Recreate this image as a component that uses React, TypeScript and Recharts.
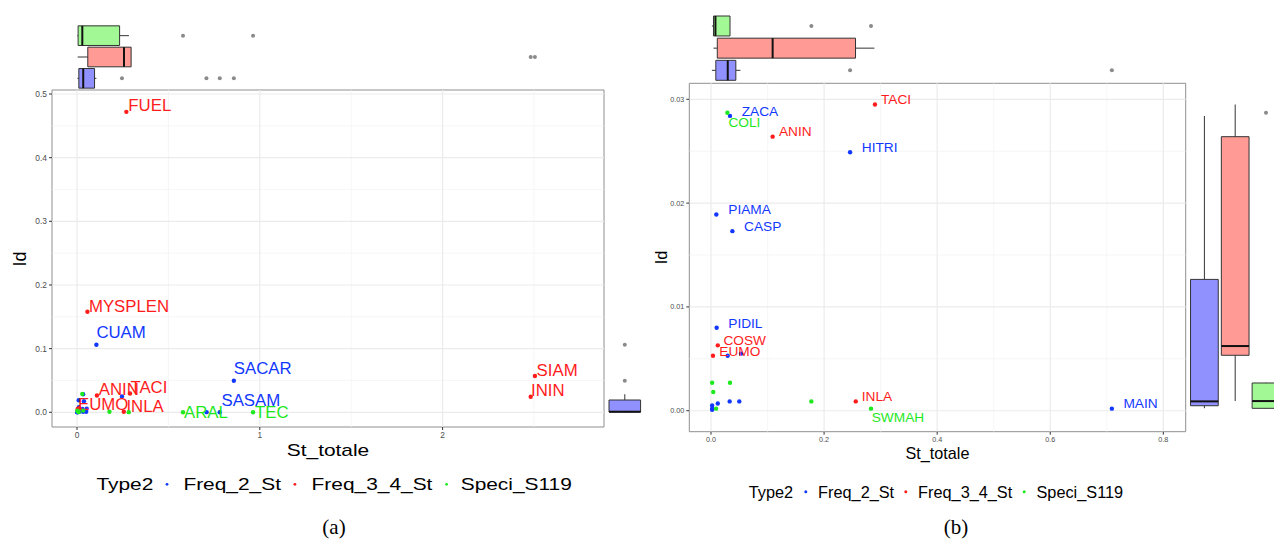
import React from 'react';
import { ScatterChart, Scatter, XAxis, YAxis, ReferenceLine, ReferenceArea } from 'recharts';

// ---------- DATA ----------
const typeNames = ['Freq_2_St', 'Freq_3_4_St', 'Speci_S119'];

// Freq_2_St (blue)
const freq2Names = ['ZACA', 'HITRI', 'PIAMA', 'CASP', 'PIDIL', '', '', '', '', '', '', '', '', 'MAIN', 'CUAM', 'SACAR', 'SASAM'];
const freq2St = [0.0336, 0.246, 0.0094, 0.0378, 0.010, 0.0295, 0.053, 0.033, 0.050, 0.002, 0.002, 0.002, 0.012, 0.709, 0.106, 0.858, 0.781];
const freq2Id = [0.0284, 0.0249, 0.0189, 0.0173, 0.0080, 0.0053, 0.0055, 0.0009, 0.0009, 0.0005, 0.0002, 0.0001, 0.0007, 0.0002, 0.106, 0.0496, 0.0];

// Freq_3_4_St (red)
const freq34Names = ['EUMO', 'COSW', 'ANIN', 'INLA', 'TACI', 'MYSPLEN', 'FUEL', 'ININ', 'SIAM'];
const freq34St = [0.0035, 0.012, 0.109, 0.256, 0.290, 0.057, 0.270, 2.482, 2.505];
const freq34Id = [0.0053, 0.0063, 0.0264, 0.0009, 0.0295, 0.158, 0.472, 0.0245, 0.057];

// Speci_S119 (green)
const speciNames = ['COLI', '', '', '', '', 'SWMAH', '', 'ARAL', 'TEC'];
const speciSt = [0.029, 0.002, 0.0336, 0.004, 0.1775, 0.283, 0.009, 0.58, 0.963];
const speciId = [0.0287, 0.0027, 0.0027, 0.0018, 0.0009, 0.0002, 0.0002, 0.0, 0.0];

// species left out of panel (b)
const excludedFromB = ['CUAM', 'SACAR', 'SASAM', 'MYSPLEN', 'FUEL', 'ININ', 'SIAM', 'ARAL', 'TEC'];

const labelledA = ['FUEL', 'MYSPLEN', 'CUAM', 'SACAR', 'SASAM', 'ARAL', 'TEC', 'ANIN', 'TACI', 'EUMO', 'INLA', 'SIAM', 'ININ'];
const labelledB = ['ZACA', 'COLI', 'ANIN', 'TACI', 'HITRI', 'PIAMA', 'CASP', 'PIDIL', 'COSW', 'EUMO', 'INLA', 'SWMAH', 'MAIN'];

// box stats [min, q1, median, q3, max] per type (blue, red, green)
const topBoxA = [[0.002, 0.010, 0.034, 0.096, 0.106], [0.0035, 0.059, 0.257, 0.296, 0.296], [0.002, 0.006, 0.029, 0.233, 0.284]];
const topOutA = [[0.246, 0.708, 0.781, 0.858], [2.482, 2.505], [0.58, 0.963]];
const rightBoxA = [[0.0, 0.0003, 0.0009, 0.0193, 0.0284]];
const rightOutA = [[0.0496, 0.106]];

const topBoxB = [[0.0016, 0.0085, 0.0296, 0.0439, 0.052], [0.0044, 0.0111, 0.109, 0.2556, 0.289], [0.0016, 0.0044, 0.0078, 0.0336, 0.0336]];
const topOutB = [[0.246, 0.709], [], [0.1775, 0.283]];
const rightBoxB = [[0.00024, 0.00048, 0.0009, 0.01265, 0.02839], [0.00093, 0.00534, 0.00623, 0.0264, 0.0295], [0.0002, 0.00023, 0.00093, 0.00267, 0.0027]];
const rightOutB = [[], [], [0.0287]];

// axis ticks
const xTicksA = [0, 1, 2];
const xMinorA = [0.5, 1.5, 2.5];
const yTicksA = [0, 0.1, 0.2, 0.3, 0.4, 0.5];
const yMinorA = [0.05, 0.15, 0.25, 0.35, 0.45];
const xTicksB = [0, 0.2, 0.4, 0.6, 0.8];
const xMinorB = [0.1, 0.3, 0.5, 0.7];
const yTicksB = [0, 0.01, 0.02, 0.03];
const yMinorB = [0.005, 0.015, 0.025];

// ---------- STYLE / LAYOUT ----------
const FONT = '"Liberation Sans", Arial, Helvetica, sans-serif';
const COLORS = ['#1238ff', '#ff1c1c', '#1ee81e'];
const BOX_FILL = ['#9090ff', '#ff9a94', '#a2f894'];

const xDomA: [number, number] = [-0.1368, 2.8829];
const yDomA: [number, number] = [-0.0231, 0.5063];
const xDomB: [number, number] = [-0.0384, 0.8396];
const yDomB: [number, number] = [-0.00202, 0.03154];

const offsetsA: Record<string, [number, number]> = {
  FUEL: [2, -6], MYSPLEN: [1.5, -5], CUAM: [0, -12.5], SACAR: [0, -12.4], SASAM: [1.7, -12],
  ARAL: [1, 0.5], TEC: [2, 0.5], ANIN: [1.8, -5.8], TACI: [0.4, -5.7], EUMO: [0.4, -4.5],
  INLA: [2.6, -5.5], SIAM: [1.7, -5.5], ININ: [0.3, -5.7],
};
const offsetsB: Record<string, [number, number]> = {
  ZACA: [11.7, -4], COLI: [1, 9.5], ANIN: [6.3, -5], TACI: [6, -5], HITRI: [11.7, -4.4],
  PIAMA: [12, -5], CASP: [11.7, -5], PIDIL: [11.6, -4.2], COSW: [5.6, -5], EUMO: [6.3, -4.5],
  INLA: [6, -5], SWMAH: [0.7, 9.2], MAIN: [11.6, -5],
};

function toPoints(names: string[], st: number[], id: number[]) {
  return names.map((n, i) => ({ name: n, x: st[i], y: id[i] }));
}

const seriesA = [
  toPoints(freq2Names, freq2St, freq2Id),
  toPoints(freq34Names, freq34St, freq34Id),
  toPoints(speciNames, speciSt, speciId),
];
const seriesB = seriesA.map((s) => s.filter((p) => !excludedFromB.includes(p.name)));

function makeShape(color: string, labels: string[], offsets: Record<string, [number, number]>, fontSize: number) {
  return (props: any) => {
    const { cx, cy, payload } = props;
    const name = payload?.name;
    const off = offsets[name];
    const show = name && labels.includes(name) && off;
    return (
      <g>
        <circle cx={cx} cy={cy} r={2.2} fill={color} />
        {show ? (
          <text x={cx + off[0]} y={cy + off[1]} fill={color} fontSize={fontSize} fontFamily={FONT} dominantBaseline="central" textAnchor="start">
            {name}
          </text>
        ) : null}
      </g>
    );
  };
}

type MainProps = {
  left: number; top: number; width: number; height: number;
  margin: { top: number; right: number; bottom: number; left: number };
  yAxisWidth: number; xAxisHeight: number;
  xDomain: [number, number]; yDomain: [number, number];
  xTicks: number[]; yTicks: number[]; xMinor: number[]; yMinor: number[];
  xFmt: (v: number) => string; yFmt: (v: number) => string;
  tickFont: number; series: any[][]; labels: string[]; offsets: Record<string, [number, number]>; labelFont: number;
};

function MainPanel(p: MainProps) {
  return (
    <div style={{ position: 'absolute', left: p.left, top: p.top, width: p.width, height: p.height }}>
      <ScatterChart width={p.width} height={p.height} margin={p.margin}>
        <XAxis type="number" dataKey="x" domain={p.xDomain} allowDataOverflow ticks={p.xTicks} interval={0}
          tickFormatter={p.xFmt} height={p.xAxisHeight} axisLine={false} tickLine={{ stroke: '#333' }}
          tickSize={3} tickMargin={2} tick={{ fontSize: p.tickFont, fill: '#4d4d4d', fontFamily: FONT }} />
        <YAxis type="number" dataKey="y" domain={p.yDomain} allowDataOverflow ticks={p.yTicks} interval={0}
          tickFormatter={p.yFmt} width={p.yAxisWidth} axisLine={false} tickLine={{ stroke: '#333' }}
          tickSize={3} tickMargin={2} tick={{ fontSize: p.tickFont, fill: '#4d4d4d', fontFamily: FONT }} />
        {p.yMinor.map((v) => <ReferenceLine key={'ym' + v} y={v} stroke="#f2f2f2" strokeWidth={0.7} />)}
        {p.xMinor.map((v) => <ReferenceLine key={'xm' + v} x={v} stroke="#f2f2f2" strokeWidth={0.7} />)}
        {p.yTicks.map((v) => <ReferenceLine key={'yM' + v} y={v} stroke="#ebebeb" strokeWidth={1.2} />)}
        {p.xTicks.map((v) => <ReferenceLine key={'xM' + v} x={v} stroke="#ebebeb" strokeWidth={1.2} />)}
        <ReferenceArea x1={p.xDomain[0]} x2={p.xDomain[1]} y1={p.yDomain[0]} y2={p.yDomain[1]}
          fill="none" fillOpacity={0} stroke="#8f8f8f" strokeWidth={1} />
        {p.series.map((s, i) => (
          <Scatter key={typeNames[i]} name={typeNames[i]} data={s} isAnimationActive={false}
            shape={makeShape(COLORS[i], p.labels, p.offsets, p.labelFont)} />
        ))}
      </ScatterChart>
    </div>
  );
}

type BoxProps = {
  vertical: boolean; left: number; top: number; width: number; height: number;
  margin: { top: number; right: number; bottom: number; left: number };
  domain: [number, number]; boxes: number[][]; outliers: number[][]; half: number;
};

function BoxMarginal(p: BoxProps) {
  const pt = (v: number, c: number) => (p.vertical ? { x: c, y: v } : { x: v, y: c });
  const out: { x: number; y: number }[] = [];
  p.outliers.forEach((arr, i) => arr.forEach((v) => out.push(pt(v, i + 0.5))));
  const catDom: [number, number] = [0, 3];
  return (
    <div style={{ position: 'absolute', left: p.left, top: p.top, width: p.width, height: p.height }}>
      <ScatterChart width={p.width} height={p.height} margin={p.margin}>
        <XAxis type="number" dataKey="x" hide domain={p.vertical ? catDom : p.domain} allowDataOverflow />
        <YAxis type="number" dataKey="y" hide domain={p.vertical ? p.domain : catDom} allowDataOverflow />
        {p.boxes.map((b, i) => {
          const c = i + 0.5;
          return [
            <ReferenceLine key={'wl' + i} segment={[pt(b[0], c), pt(b[1], c)]} stroke="#333" strokeWidth={1} ifOverflow="visible" />,
            <ReferenceLine key={'wh' + i} segment={[pt(b[3], c), pt(b[4], c)]} stroke="#333" strokeWidth={1} ifOverflow="visible" />,
          ];
        })}
        {p.boxes.map((b, i) => {
          const c = i + 0.5;
          return p.vertical ? (
            <ReferenceArea key={'bx' + i} x1={c - p.half} x2={c + p.half} y1={b[1]} y2={b[3]}
              fill={BOX_FILL[i]} fillOpacity={1} stroke="#333" strokeWidth={1} ifOverflow="visible" />
          ) : (
            <ReferenceArea key={'bx' + i} x1={b[1]} x2={b[3]} y1={c - p.half} y2={c + p.half}
              fill={BOX_FILL[i]} fillOpacity={1} stroke="#333" strokeWidth={1} ifOverflow="visible" />
          );
        })}
        {p.boxes.map((b, i) => {
          const c = i + 0.5;
          return (
            <ReferenceLine key={'md' + i} segment={[pt(b[2], c - p.half), pt(b[2], c + p.half)]}
              stroke="#111" strokeWidth={2} ifOverflow="visible" />
          );
        })}
        <Scatter data={out} isAnimationActive={false}
          shape={(props: any) => <circle cx={props.cx} cy={props.cy} r={2} fill="#8a8a8a" />} />
      </ScatterChart>
    </div>
  );
}

const legendA = { y: 484.3, sx: 1.29, font: 16.2, r: 1.4, texts: [96.4, 183.4, 311.6, 460.7], dots: [167, 294.9, 446.6] };
const legendB = { y: 491.7, sx: 1, font: 16.3, r: 1.5, texts: [748.8, 818.1, 918.1, 1036.5], dots: [805.8, 905.8, 1024.2] };

function LegendText({ cfg }: { cfg: typeof legendA }) {
  const words = ['Type2', ...typeNames];
  return (
    <g>
      {words.map((w, i) => (
        <text key={w} transform={`translate(${cfg.texts[i]},${cfg.y}) scale(${cfg.sx},1)`} fontSize={cfg.font}
          fontFamily={FONT} fill="#000" dominantBaseline="central">{w}</text>
      ))}
      {cfg.dots.map((d, i) => <circle key={i} cx={d} cy={cfg.y} r={cfg.r} fill={COLORS[i]} />)}
    </g>
  );
}

export default function App() {
  return (
    <div style={{ position: 'absolute', left: 0, top: 0, width: 1274, height: 542, overflow: 'hidden', background: '#fff' }}>
      {/* Panel (a) */}
      <BoxMarginal vertical={false} left={0} top={0} width={620} height={100}
        margin={{ top: 25, right: 16, bottom: 11, left: 52 }} domain={xDomA}
        boxes={topBoxA} outliers={topOutA} half={0.46} />
      <MainPanel left={0} top={80} width={620} height={380}
        margin={{ top: 10, right: 16, bottom: 0, left: 0 }} yAxisWidth={52} xAxisHeight={33}
        xDomain={xDomA} yDomain={yDomA} xTicks={xTicksA} yTicks={yTicksA} xMinor={xMinorA} yMinor={yMinorA}
        xFmt={(v) => String(v)} yFmt={(v) => v.toFixed(1)} tickFont={8.4}
        series={seriesA} labels={labelledA} offsets={offsetsA} labelFont={16.8} />
      <div style={{ position: 'absolute', left: 604, top: 80, width: 41, height: 380, overflow: 'hidden' }}>
        <BoxMarginal vertical={true} left={4.4} top={0} width={100.8} height={380}
          margin={{ top: 10, right: 0, bottom: 33, left: 0 }} domain={yDomA}
          boxes={rightBoxA} outliers={rightOutA} half={0.47} />
      </div>

      {/* Panel (b) */}
      <BoxMarginal vertical={false} left={660} top={0} width={540} height={90}
        margin={{ top: 14.9, right: 14.3, bottom: 8.6, left: 29.3 }} domain={xDomB}
        boxes={topBoxB} outliers={topOutB} half={0.45} />
      <MainPanel left={660} top={70} width={540} height={400}
        margin={{ top: 13.3, right: 14.3, bottom: 0, left: 0 }} yAxisWidth={29.3} xAxisHeight={38.3}
        xDomain={xDomB} yDomain={yDomB} xTicks={xTicksB} yTicks={yTicksB} xMinor={xMinorB} yMinor={yMinorB}
        xFmt={(v) => v.toFixed(1)} yFmt={(v) => v.toFixed(2)} tickFont={7.2}
        series={seriesB} labels={labelledB} offsets={offsetsB} labelFont={13.7} />
      <BoxMarginal vertical={true} left={1189.1} top={70} width={92.4} height={400}
        margin={{ top: 13.3, right: 0, bottom: 38.3, left: 0 }} domain={yDomB}
        boxes={rightBoxB} outliers={rightOutB} half={0.45} />

      {/* Titles, legends, captions */}
      <svg width={1274} height={542} style={{ position: 'absolute', left: 0, top: 0, pointerEvents: 'none' }}>
        <text transform="translate(328,450) scale(1.29,1)" fontSize={16.2} fontFamily={FONT} textAnchor="middle" dominantBaseline="central" fill="#000">St_totale</text>
        <text transform="translate(20,259) rotate(-90)" fontSize={18} fontFamily={FONT} textAnchor="middle" dominantBaseline="central" fill="#000">Id</text>
        <text transform="translate(937.5,453)" fontSize={16.2} fontFamily={FONT} textAnchor="middle" dominantBaseline="central" fill="#000">St_totale</text>
        <text transform="translate(661,257.5) rotate(-90)" fontSize={16.2} fontFamily={FONT} textAnchor="middle" dominantBaseline="central" fill="#000">Id</text>
        <LegendText cfg={legendA} />
        <LegendText cfg={legendB} />
        <text x={334} y={527} fontSize={21} fontFamily='"Liberation Serif", "Times New Roman", serif' textAnchor="middle" dominantBaseline="central" fill="#000">(a)</text>
        <text x={956} y={527} fontSize={21} fontFamily='"Liberation Serif", "Times New Roman", serif' textAnchor="middle" dominantBaseline="central" fill="#000">(b)</text>
      </svg>
    </div>
  );
}
